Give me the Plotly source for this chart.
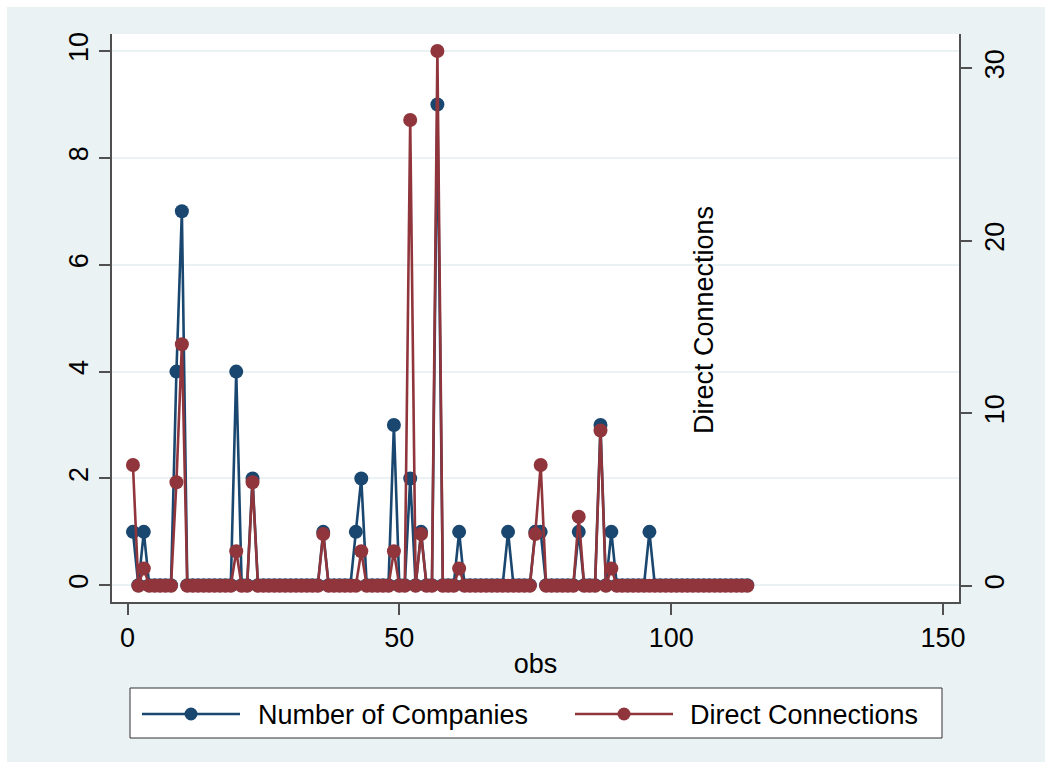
import plotly.graph_objects as go

# ---------------- data ----------------
obs = list(range(1, 115))

companies = [
    1, 0, 1, 0, 0, 0, 0, 0, 4, 7,
    0, 0, 0, 0, 0, 0, 0, 0, 0, 4,
    0, 0, 2, 0, 0, 0, 0, 0, 0, 0,
    0, 0, 0, 0, 0, 1, 0, 0, 0, 0,
    0, 1, 2, 0, 0, 0, 0, 0, 3, 0,
    0, 2, 0, 1, 0, 0, 9, 0, 0, 0,
    1, 0, 0, 0, 0, 0, 0, 0, 0, 1,
    0, 0, 0, 0, 1, 1, 0, 0, 0, 0,
    0, 0, 1, 0, 0, 0, 3, 0, 1, 0,
    0, 0, 0, 0, 0, 1, 0, 0, 0, 0,
    0, 0, 0, 0, 0, 0, 0, 0, 0, 0,
    0, 0, 0, 0,
]

connections = [
    7, 0, 1, 0, 0, 0, 0, 0, 6, 14,
    0, 0, 0, 0, 0, 0, 0, 0, 0, 2,
    0, 0, 6, 0, 0, 0, 0, 0, 0, 0,
    0, 0, 0, 0, 0, 3, 0, 0, 0, 0,
    0, 0, 2, 0, 0, 0, 0, 0, 2, 0,
    0, 27, 0, 3, 0, 0, 31, 0, 0, 0,
    1, 0, 0, 0, 0, 0, 0, 0, 0, 0,
    0, 0, 0, 0, 3, 7, 0, 0, 0, 0,
    0, 0, 4, 0, 0, 0, 9, 0, 1, 0,
    0, 0, 0, 0, 0, 0, 0, 0, 0, 0,
    0, 0, 0, 0, 0, 0, 0, 0, 0, 0,
    0, 0, 0, 0,
]

series_names = ["Number of Companies", "Direct Connections"]
x_ticks = [0, 50, 100, 150]
y1_ticks = [0, 2, 4, 6, 8, 10]
y2_ticks = [0, 10, 20, 30]

# ---------------- style ----------------
BLUE = "#1A476F"
RED = "#90353B"
LIGHT = "#EAF2F3"
AXIS = "#505050"
FONT = "Liberation Sans, Arial, sans-serif"
FS = 27
LW = 2.6
MS = 14

W, H = 1052, 769
L, R, T, B = 112, 959, 34, 602  # plot area in pixels
PW, PH = R - L, B - T


def px(x):
    return (x - L) / PW


def py(y):
    return (B - y) / PH


fig = go.Figure()
fig.add_trace(go.Scatter(
    x=obs, y=companies, name=series_names[0], mode="lines+markers",
    line=dict(color=BLUE, width=LW), marker=dict(color=BLUE, size=MS),
    yaxis="y", showlegend=False, cliponaxis=False,
))
fig.add_trace(go.Scatter(
    x=obs, y=connections, name=series_names[1], mode="lines+markers",
    line=dict(color=RED, width=LW), marker=dict(color=RED, size=MS),
    yaxis="y2", showlegend=False, cliponaxis=False,
))

shapes = [
    # outer light graph region
    dict(type="rect", xref="paper", yref="paper", layer="below",
         x0=px(7), x1=px(1045), y0=py(762), y1=py(7),
         fillcolor=LIGHT, line=dict(width=0)),
    # white plot region
    dict(type="rect", xref="paper", yref="paper", layer="below",
         x0=0, x1=1, y0=0, y1=1, fillcolor="white", line=dict(width=0)),
    # legend box
    dict(type="rect", xref="paper", yref="paper", layer="above",
         x0=px(130), x1=px(942), y0=py(738), y1=py(688),
         fillcolor="white", line=dict(color="#333333", width=1)),
]

annotations = [
    dict(text="Direct Connections", xref="paper", yref="paper",
         x=px(704), y=py(320), textangle=-90, showarrow=False,
         font=dict(family=FONT, size=FS, color="black"),
         xanchor="center", yanchor="middle"),
]

# manual legend entries (Stata style: long line sample with a marker)
leg_y = 714
for name, color, lx0, lx1, tx in [
    (series_names[0], BLUE, 142, 240, 258),
    (series_names[1], RED, 575, 673, 690),
]:
    shapes.append(dict(type="line", xref="paper", yref="paper", layer="above",
                       x0=px(lx0), x1=px(lx1), y0=py(leg_y), y1=py(leg_y),
                       line=dict(color=color, width=LW)))
    cx = (lx0 + lx1) / 2
    shapes.append(dict(type="circle", xref="paper", yref="paper", layer="above",
                       x0=px(cx - 6.5), x1=px(cx + 6.5),
                       y0=py(leg_y + 6.5), y1=py(leg_y - 6.5),
                       fillcolor=color, line=dict(color=color, width=0)))
    annotations.append(dict(text=name, xref="paper", yref="paper",
                            x=px(tx - 2), y=py(leg_y + 1), showarrow=False,
                            xanchor="left", yanchor="middle",
                            font=dict(family=FONT, size=FS, color="black")))

# axis ranges chosen so that data values land at the reference pixel positions
x_scale = (943 - 127.5) / 150
x_range = [(L - 127.5) / x_scale, (R - 127.5) / x_scale]
y1_scale = (585.3 - 51) / 10
y1_range = [-(B - 585.3) / y1_scale, 10 + (51 - T) / y1_scale]
y2_scale = (585.7 - 68.3) / 30
y2_range = [-(B - 585.7) / y2_scale, 30 + (68.3 - T) / y2_scale]

tickfont = dict(family=FONT, size=FS, color="black")

fig.update_layout(
    width=W, height=H,
    margin=dict(l=L, r=W - R, t=T, b=H - B, autoexpand=False),
    paper_bgcolor="white", plot_bgcolor="white",
    font=dict(family=FONT, size=FS, color="black"),
    shapes=shapes, annotations=annotations,
    xaxis=dict(
        range=x_range, tickvals=x_ticks, ticks="outside", ticklen=11,
        tickwidth=1.5, tickcolor=AXIS, showline=True, linecolor=AXIS,
        linewidth=1.5, showgrid=False, zeroline=False, tickfont=tickfont,
        title=dict(text="obs", font=tickfont, standoff=2),
    ),
    yaxis=dict(
        range=y1_range, tickvals=y1_ticks, ticks="outside", ticklen=11,
        tickwidth=1.5, tickcolor=AXIS, showline=True, linecolor=AXIS,
        linewidth=1.5, showgrid=True, gridcolor=LIGHT, gridwidth=2,
        zeroline=False, tickangle=-90, tickfont=tickfont,
    ),
    yaxis2=dict(
        range=y2_range, tickvals=y2_ticks, ticks="outside", ticklen=11,
        tickwidth=1.5, tickcolor=AXIS, showline=True, linecolor=AXIS,
        linewidth=1.5, showgrid=False, zeroline=False, tickangle=-90,
        overlaying="y", side="right", tickfont=tickfont,
    ),
)

fig.write_html("out.html", config={"displayModeBar": False},
               post_script="document.body.style.margin='0';")
